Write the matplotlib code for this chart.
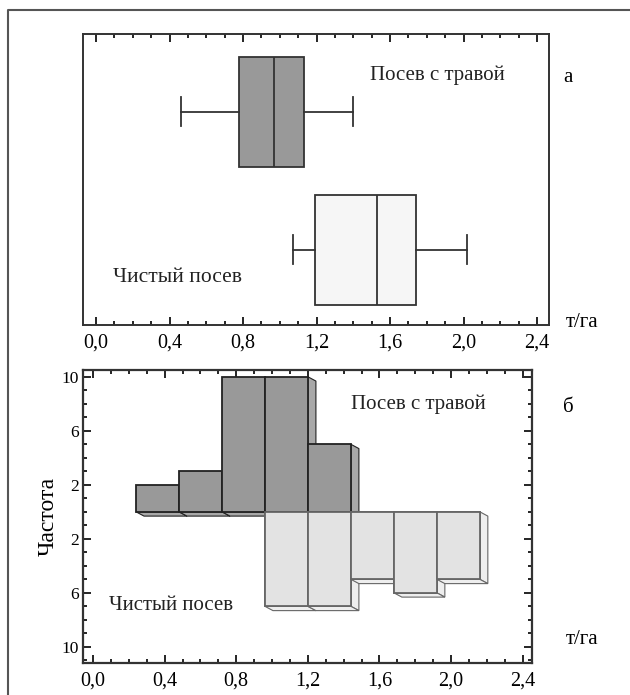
import numpy as np
import matplotlib
matplotlib.use("Agg")
import matplotlib.pyplot as plt
from matplotlib.lines import Line2D
from matplotlib.ticker import MultipleLocator, FixedLocator, FuncFormatter

plt.rcParams["font.family"] = "Liberation Serif"

# box plot summaries (т/га)
box_labels = ["Посев с травой", "Чистый посев"]
box_whislo = [0.46, 1.07]
box_q1 = [0.78, 1.19]
box_med = [0.97, 1.53]
box_q3 = [1.13, 1.74]
box_whishi = [1.40, 2.02]

# histograms
bin_width = 0.24
grass_left = [0.24, 0.48, 0.72, 0.96, 1.20]
grass_count = [2, 3, 10, 10, 5]
clean_left = [0.96, 1.20, 1.44, 1.68, 1.92]
clean_count = [7, 7, 5, 6, 5]

x_ticks = [0.0, 0.4, 0.8, 1.2, 1.6, 2.0, 2.4]
y_ticks = [-10, -6, -2, 2, 6, 10]

W, H = 630, 695
fig = plt.figure(figsize=(W / 100, H / 100), dpi=100)


def fx(px):
    return px / W


def fy(py):
    return 1 - py / H


comma = FuncFormatter(lambda v, p: f"{v:.1f}".replace(".", ","))

# ---- a: box plots ----
ax1 = fig.add_axes([fx(83), fy(325), fx(549) - fx(83), fy(34) - fy(325)])
stats = []
for i in range(2):
    stats.append(dict(med=box_med[i], q1=box_q1[i], q3=box_q3[i],
                      whislo=box_whislo[i], whishi=box_whishi[i], label=box_labels[i]))
bp = ax1.bxp(stats, positions=[0.733, 0.259], widths=0.378, orientation="horizontal",
             patch_artist=True, showfliers=False, capwidths=0.1,
             boxprops=dict(linewidth=1.3, edgecolor="#333333"),
             medianprops=dict(color="#333333", linewidth=1.3),
             whiskerprops=dict(color="#333333", linewidth=1.3),
             capprops=dict(color="#333333", linewidth=1.3))
bp["boxes"][0].set_facecolor("#999999")
bp["boxes"][1].set_facecolor("#f6f6f6")
ax1.set_xlim(-0.071, 2.465)
ax1.set_ylim(0, 1)
ax1.set_yticks([])
ax1.xaxis.set_major_locator(FixedLocator(x_ticks))
ax1.xaxis.set_minor_locator(MultipleLocator(0.1))
ax1.xaxis.set_major_formatter(comma)
ax1.tick_params(axis="x", which="both", direction="in", top=True, labelsize=14.5, pad=6)
ax1.tick_params(axis="x", which="major", length=6, width=1.2)
ax1.tick_params(axis="x", which="minor", length=3, width=1.2)
for s in ax1.spines.values():
    s.set_linewidth(1.4)
    s.set_color("#333333")
ax1.text(1.49, 0.858, "Посев с травой", fontsize=15, va="center", ha="left", color="#222222")
ax1.text(0.09, 0.162, "Чистый посев", fontsize=15.5, va="center", ha="left", color="#222222")

# ---- б: histograms with a small 3D extrusion ----
ax2 = fig.add_axes([fx(83.3), fy(663), fx(531.7) - fx(83.3), fy(370) - fy(663)])
dx, dy = 0.045, 0.32


def extruded_bars(ax, lefts, bottoms, tops, face, side, edge):
    for x0, b, t in zip(lefts, bottoms, tops):
        x1 = x0 + bin_width
        # right face
        ax.fill([x1, x1 + dx, x1 + dx, x1], [t, t - dy, b - dy, b],
                facecolor=side, edgecolor=edge, linewidth=0.8, zorder=1)
        # bottom face
        ax.fill([x0, x0 + dx, x1 + dx, x1], [b, b - dy, b - dy, b],
                facecolor=side, edgecolor=edge, linewidth=0.8, zorder=1)
    ax.bar(lefts, np.array(tops) - np.array(bottoms), width=bin_width, bottom=bottoms,
           align="edge", color=face, edgecolor=edge, linewidth=1.3, zorder=2)


extruded_bars(ax2, clean_left, -np.array(clean_count), np.zeros(len(clean_count)),
              "#e3e3e3", "#eeeeee", "#666666")
extruded_bars(ax2, grass_left, np.zeros(len(grass_count)), grass_count,
              "#999999", "#a8a8a8", "#222222")
# clean bars above grass bottom faces
ax2.bar(clean_left, -np.array(clean_count), width=bin_width, align="edge",
        color="#e3e3e3", edgecolor="#666666", linewidth=1.3, zorder=3)
ax2.set_xlim(-0.054, 2.45)
ax2.set_ylim(-11.2, 10.5)
ax2.xaxis.set_major_locator(FixedLocator(x_ticks))
ax2.xaxis.set_minor_locator(MultipleLocator(0.1))
ax2.xaxis.set_major_formatter(comma)
ax2.yaxis.set_major_locator(FixedLocator(y_ticks))
ax2.yaxis.set_minor_locator(MultipleLocator(1))
ax2.yaxis.set_major_formatter(FuncFormatter(lambda v, p: f"{abs(v):.0f}"))
ax2.tick_params(axis="both", which="both", direction="in", top=True, right=True)
ax2.tick_params(axis="x", which="major", length=6, width=1.2, labelsize=14.5, pad=6)
ax2.tick_params(axis="y", which="major", length=6, width=1.2, labelsize=12.5, pad=3)
ax2.tick_params(which="minor", length=3, width=1.2)
for s in ax2.spines.values():
    s.set_linewidth(1.6)
    s.set_color("#333333")
ax2.set_ylabel("Частота", fontsize=17, labelpad=2)
ax2.text(1.44, 8.0, "Посев с травой", fontsize=15, va="center", ha="left", color="#222222")
ax2.text(0.09, -6.95, "Чистый посев", fontsize=15, va="center", ha="left", color="#222222")

# panel letters and units
fig.text(fx(563), fy(77), "а", fontsize=15, va="center", ha="left")
fig.text(fx(563), fy(408), "б", fontsize=15, va="center", ha="left")
fig.text(fx(566), fy(322), "т/га", fontsize=15, va="center", ha="left")
fig.text(fx(566), fy(640), "т/га", fontsize=15, va="center", ha="left")

# outer frame (cropped on right and bottom)
fig.add_artist(Line2D([fx(8), fx(8), 1.0], [0.0, fy(10), fy(10)],
                      transform=fig.transFigure, color="#555555", linewidth=1.5))

fig.savefig("out.png", dpi=100)
